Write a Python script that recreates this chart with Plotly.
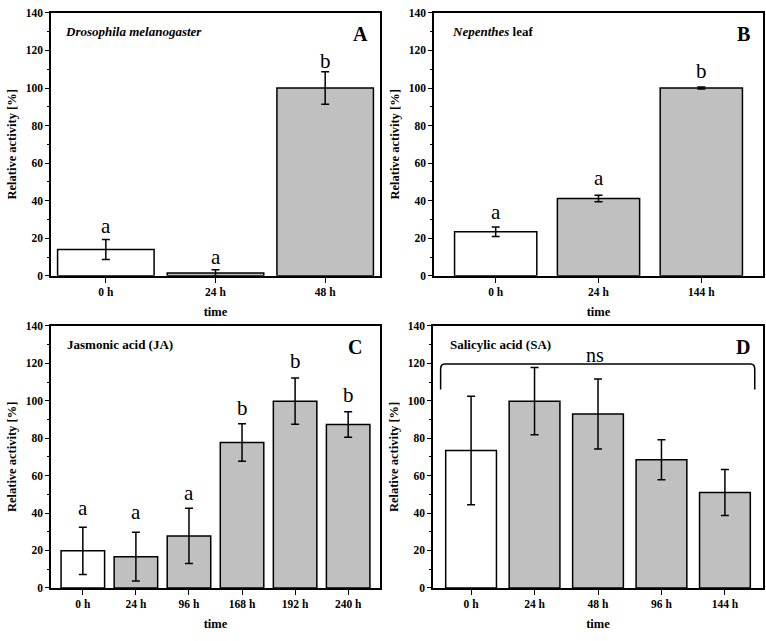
import plotly.graph_objects as go

# ---------------- data ----------------
a_cats = ["0 h", "24 h", "48 h"]
a_vals = [14, 1.5, 100]
a_err = [5.3, 1.7, 8.7]
a_letters = ["a", "a", "b"]
a_letter_y = [26.5, 10, 114.5]

b_cats = ["0 h", "24 h", "144 h"]
b_vals = [23.5, 41.2, 100]
b_err = [2.5, 1.7, 0.5]
b_letters = ["a", "a", "b"]
b_letter_y = [34, 52, 109]

c_cats = ["0 h", "24 h", "96 h", "168 h", "192 h", "240 h"]
c_vals = [19.8, 16.7, 27.8, 77.7, 99.8, 87.3]
c_err = [12.6, 13.0, 14.8, 10.0, 12.4, 6.8]
c_letters = ["a", "a", "a", "b", "b", "b"]
c_letter_y = [42.5, 40.5, 50.8, 96, 121.5, 103]

d_cats = ["0 h", "24 h", "48 h", "96 h", "144 h"]
d_vals = [73.4, 99.8, 92.9, 68.5, 51.0]
d_err = [29.0, 18.0, 18.7, 10.7, 12.3]
d_bracket_x = [-0.48, 4.47]
d_bracket_y = [106, 119.7]
d_ns_y = 124.5

y_ticks = [0, 20, 40, 60, 80, 100, 120, 140]

GRAY = "#c0c0c0"
FONT = "Liberation Serif, Times New Roman, serif"

panels = [
    dict(cats=a_cats, vals=a_vals, err=a_err, letters=a_letters, ly=a_letter_y,
         label="<b><i>Drosophila melanogaster</i></b>", tag="A", width=0.88, pad=0.5,
         dx=[51, 380], dy=[7, 275], lx=0.037, tx=0.94),
    dict(cats=b_cats, vals=b_vals, err=b_err, letters=b_letters, ly=b_letter_y,
         label="<b><i>Nepenthes</i> leaf</b>", tag="B", width=0.8, pad=0.6,
         dx=[434, 763], dy=[7, 275], lx=0.048, tx=0.94),
    dict(cats=c_cats, vals=c_vals, err=c_err, letters=c_letters, ly=c_letter_y,
         label="<b>Jasmonic acid (JA)</b>", tag="C", width=0.82, pad=0.6,
         dx=[51, 380], dy=[326, 593], lx=0.042, tx=0.925),
    dict(cats=d_cats, vals=d_vals, err=d_err, letters=None, ly=None,
         label="<b>Salicylic acid (SA)</b>", tag="D", width=0.8, pad=0.6,
         dx=[433, 763], dy=[326, 593], lx=0.046, tx=0.94),
]

W, H = 766, 641
fig = go.Figure()
annotations = []
shapes = []

for i, p in enumerate(panels):
    n = i + 1
    xa = "x" if n == 1 else f"x{n}"
    ya = "y" if n == 1 else f"y{n}"
    xs = list(range(len(p["cats"])))
    colors = ["white"] + [GRAY] * (len(xs) - 1)
    fig.add_trace(go.Bar(
        x=xs, y=p["vals"], width=p["width"],
        marker=dict(color=colors, line=dict(color="black", width=1.5)),
        error_y=dict(type="data", array=p["err"], color="black", thickness=1.5, width=4),
        xaxis=xa, yaxis=ya, showlegend=False,
    ))
    xdom = [p["dx"][0] / W, p["dx"][1] / W]
    ydom = [1 - p["dy"][1] / H, 1 - p["dy"][0] / H]
    axis_common = dict(showline=True, linecolor="black", linewidth=1.5, mirror=True,
                       showgrid=False, zeroline=False,
                       tickfont=dict(family=FONT, size=11.5, color="black", weight="bold"),
                       ticks="outside", tickcolor="black", tickwidth=1.2)
    fig.layout[("xaxis" if n == 1 else f"xaxis{n}")] = dict(
        axis_common, domain=xdom, anchor=ya,
        range=[-p["pad"], len(xs) - 1 + p["pad"]],
        tickvals=xs, ticktext=p["cats"], ticklen=5,
        title=dict(text="<b>time</b>", font=dict(family=FONT, size=12.5, color="black"), standoff=10),
    )
    fig.layout[("yaxis" if n == 1 else f"yaxis{n}")] = dict(
        axis_common, domain=ydom, anchor=xa,
        range=[0, 140], tickvals=y_ticks, ticklen=4,
        minor=dict(ticks="outside", ticklen=2, dtick=10, tickcolor="black", tickwidth=1),
        title=dict(text="<b>Relative activity [%]</b>", font=dict(family=FONT, size=12.5, color="black"), standoff=6),
    )
    annotations.append(dict(xref=f"{xa} domain", yref=f"{ya} domain", x=p["lx"], y=0.93,
                            xanchor="left", yanchor="middle", showarrow=False, text=p["label"],
                            font=dict(family=FONT, size=13, color="black")))
    annotations.append(dict(xref=f"{xa} domain", yref=f"{ya} domain", x=p["tx"], y=0.918,
                            xanchor="center", yanchor="middle", showarrow=False,
                            text=f"<b>{p['tag']}</b>",
                            font=dict(family=FONT, size=20, color="black")))
    if p["letters"]:
        for xv, lt, lyv in zip(xs, p["letters"], p["ly"]):
            annotations.append(dict(xref=xa, yref=ya, x=xv, y=lyv, text=lt, showarrow=False,
                                    xanchor="center", yanchor="middle",
                                    font=dict(family=FONT, size=21, color="black")))

# ns bracket on panel D
x0, x1 = d_bracket_x
yb, yt = d_bracket_y
cx = 0.06
cy = 3
path = (f"M {x0},{yb} L {x0},{yt - cy} Q {x0},{yt} {x0 + cx},{yt} "
        f"L {x1 - cx},{yt} Q {x1},{yt} {x1},{yt - cy} L {x1},{yb}")
shapes.append(dict(type="path", path=path, xref="x4", yref="y4",
                   line=dict(color="black", width=1.5)))
annotations.append(dict(xref="x4", yref="y4", x=(x0 + x1) / 2 - 0.05, y=d_ns_y, text="ns",
                        showarrow=False, xanchor="center", yanchor="middle",
                        font=dict(family=FONT, size=20, color="black")))

fig.update_layout(
    width=W, height=H, margin=dict(l=0, r=0, t=0, b=0),
    plot_bgcolor="white", paper_bgcolor="white",
    annotations=annotations, shapes=shapes,
)
fig.write_html("out.html", config={"displayModeBar": False},
               post_script="document.body.style.margin='0';")
